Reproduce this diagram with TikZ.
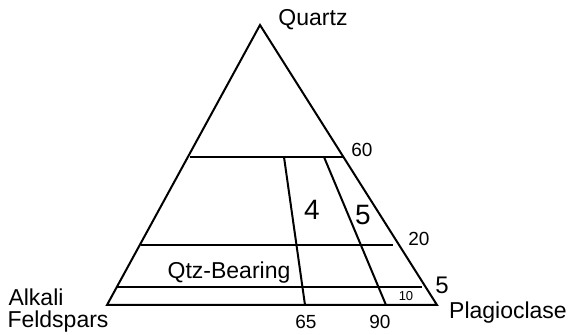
\documentclass[tikz,border=0pt]{standalone}
\usepackage{fontspec}
\setmainfont{Liberation Sans}
\begin{document}
\begin{tikzpicture}[x=0.5pt,y=-0.5pt,line width=1pt,line join=miter,
  every node/.style={font=\fontsize{11.5}{13}\selectfont,inner sep=0pt},
  numlbl/.style={font=\fontsize{9.5}{11}\selectfont},
  biglbl/.style={font=\fontsize{14}{16}\selectfont}]
\useasboundingbox (0,0) rectangle (570,335);
% triangle corners
\coordinate (qz) at (260,25);
\coordinate (af) at (107,305);
\coordinate (pl) at (437,305);
\draw (qz) -- (af) -- (pl) -- cycle;
% quartz lines at 60, 20, 5
\coordinate (l60) at (190,157); \coordinate (r60) at (344,157);
\coordinate (l20) at (141,245); \coordinate (r20) at (393,245);
\coordinate (l5) at (116,287);  \coordinate (r5) at (422,287);
\draw (l60) -- (r60);
\draw (l20) -- (r20);
\draw (l5) -- (r5);
% plagioclase ratio lines at 65, 90
\coordinate (t65) at (284,157); \coordinate (b65) at (305,305);
\coordinate (t90) at (324,157); \coordinate (b90) at (386,305);
\draw (t65) -- (b65);
\draw (t90) -- (b90);
% labels
\node (quartz) at (313,20) {Quartz};
\node (alkali) at (36,297) {Alkali};
\node (felds) at (58,322) {Feldspars};
\node (plag) at (508,313) {Plagioclase};
\node (qtzb) at (229,273) {Qtz-Bearing};
\node[numlbl] (n60) at (362,150) {60};
\node[numlbl] (n20) at (419,239) {20};
\node[numlbl,font=\fontsize{12}{14}\selectfont] (n5) at (442,285) {5};
\node[numlbl,font=\fontsize{6.5}{8}\selectfont] (n10) at (406,296) {10};
\node[numlbl] (n65) at (306,322) {65};
\node[numlbl] (n90) at (380,322) {90};
\node[biglbl] (f4) at (312,210) {4};
\node[biglbl] (f5) at (363,215) {5};
\end{tikzpicture}
\end{document}
